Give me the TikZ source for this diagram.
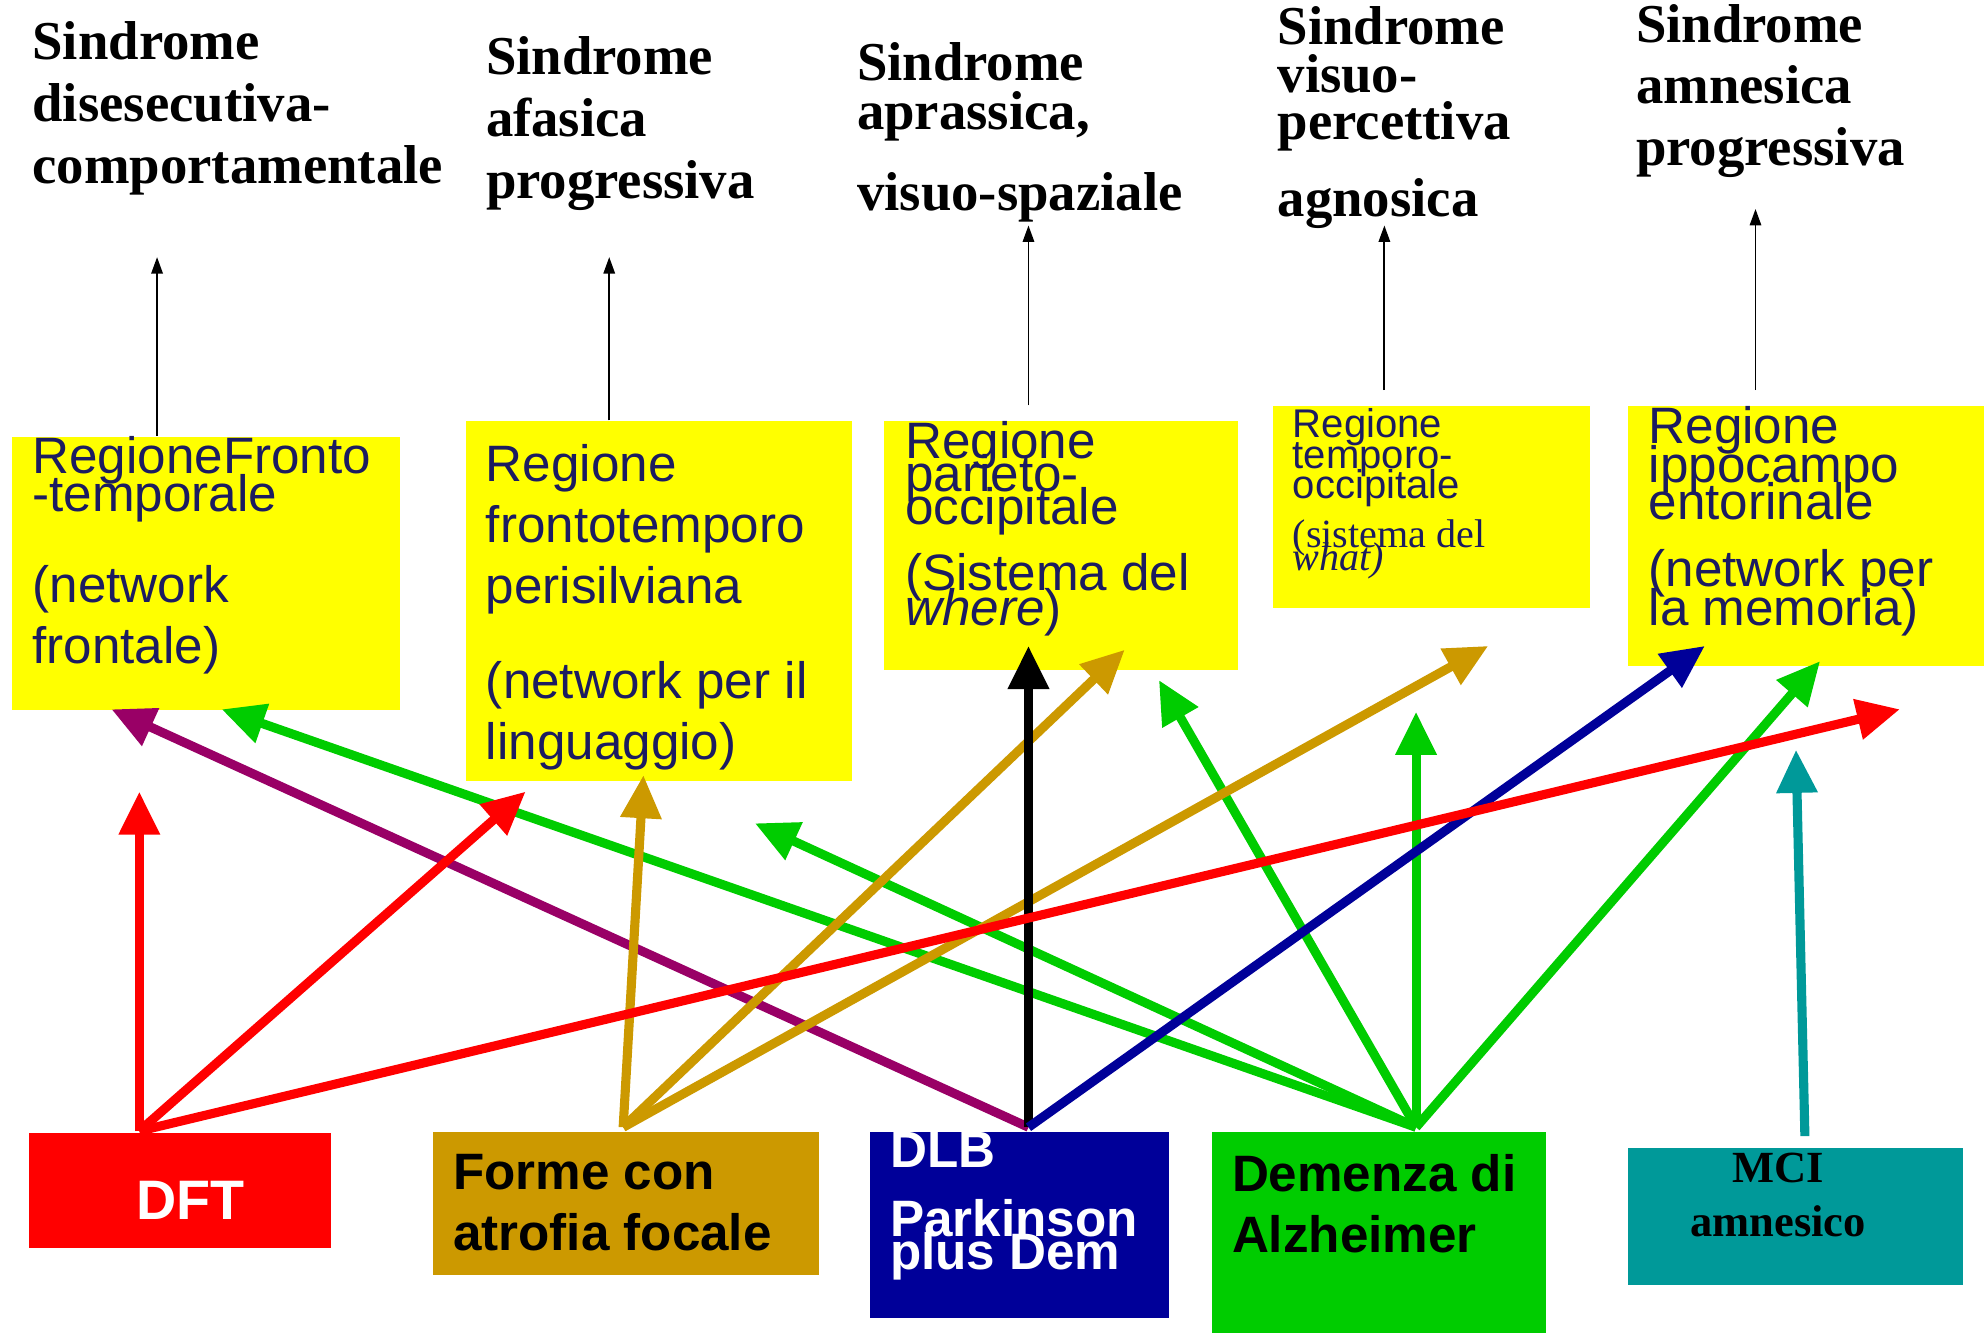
\documentclass[tikz,border=0pt]{standalone}
\usepackage{fontspec}
\setmainfont{Liberation Serif}
\newfontfamily\sansfam{Liberation Sans}
\usetikzlibrary{positioning, arrows.meta, calc}
\definecolor{boxyellow}{RGB}{255,255,0}
\definecolor{inkblue}{RGB}{28,28,96}
\definecolor{dftred}{RGB}{255,0,0}
\definecolor{focalgold}{RGB}{204,153,0}
\definecolor{dlbblue}{RGB}{0,0,153}
\definecolor{adgreen}{RGB}{0,204,0}
\definecolor{mciteal}{RGB}{0,153,153}
\definecolor{dlbpurple}{RGB}{153,0,102}

\begin{document}
\begin{tikzpicture}
    [
        x=1cm, y=1cm,
        yellow_box/.style={rectangle, fill=boxyellow, inner sep=0pt, anchor=north west},
        region_text/.style={inner sep=0pt, align=left, text=inkblue, font={\sansfam\fontsize{11.5}{13.7}\selectfont\lineskiplimit=-\maxdimen}},
        small_region_text/.style={inner sep=0pt, align=left, text=inkblue, font={\sansfam\fontsize{9}{6.8}\selectfont\lineskiplimit=-\maxdimen}},
        syndrome_text/.style={anchor=north west, inner sep=0pt, align=left, font={\bfseries\fontsize{12.3}{13.9}\selectfont\lineskiplimit=-\maxdimen}},
        disease_box/.style={rectangle, inner sep=0pt, anchor=north west},
        disease_text/.style={inner sep=0pt, align=left, font={\sansfam\bfseries\fontsize{11.5}{13.7}\selectfont\lineskiplimit=-\maxdimen}},
        thin_arrow/.style={-{Triangle[length=1.3mm, width=0.9mm]}, line width=0.15mm},
        thick_arrow/.style={-{Triangle[length=3.4mm, width=3.1mm]}, line width=0.72mm},
    ]
        \useasboundingbox (0,0) rectangle (15.68,-10.52);

        % syndromes
        \node[syndrome_text] (synFronto) at (0.25,-0.165) {Sindrome\\ disesecutiva-\\ comportamentale};
        \node[syndrome_text] (synLang) at (3.83,-0.285) {Sindrome\\ afasica\\ progressiva};
        \node[syndrome_text] (synParieto) at (6.76,-0.325) {Sindrome\\[-2.8pt] aprassica,\\[4.3pt] visuo-spaziale};
        \node[syndrome_text] (synTempo) at (10.08,-0.045) {Sindrome\\[-3.1pt] visuo-\\[-3.4pt] percettiva\\[3.5pt] agnosica};
        \node[syndrome_text] (synIppo) at (12.91,-0.025) {Sindrome\\ amnesica\\ progressiva};

        % regions
        \node[yellow_box, minimum width=3.06cm, minimum height=2.16cm] (regFronto) at (0.09,-3.44) {};
        \node[yellow_box, minimum width=3.05cm, minimum height=2.84cm] (regLang) at (3.67,-3.32) {};
        \node[yellow_box, minimum width=2.80cm, minimum height=1.96cm] (regParieto) at (6.97,-3.32) {};
        \node[yellow_box, minimum width=2.51cm, minimum height=1.59cm] (regTempo) at (10.04,-3.20) {};
        \node[yellow_box, minimum width=2.81cm, minimum height=2.05cm] (regIppo) at (12.85,-3.20) {};

        \node[region_text, below right=0cm and 1.6mm of regFronto.north west] (regFrontoTxt) {RegioneFronto\\[-5.2pt] -temporale\\[6.8pt] (network\\ frontale)};
        \node[region_text, below right=1.8mm and 1.6mm of regLang.north west] (regLangTxt) {Regione\\ frontotemporo\\ perisilviana\\[7.6pt] (network per il\\ linguaggio)};
        \node[region_text, below right=0cm and 1.7mm of regParieto.north west] (regParietoTxt) {Regione\\[-6.3pt] parieto-\\[-6.3pt] occipitale\\[1.1pt] (Sistema del\\[-5.7pt] \textit{where})};
        \node[small_region_text, below right=0.2mm and 1.6mm of regTempo.north west] (regTempoTxt) {Regione\\ temporo-\\ occipitale\\[4.3pt] \rmfamily (sistema del\\[-1.7pt] \rmfamily\itshape what)};
        \node[region_text, below right=0cm and 1.6mm of regIppo.north west] (regIppoTxt) {Regione\\[-4.9pt] ippocampo\\[-5.4pt] entorinale\\[1.4pt] (network per\\[-4.9pt] la memoria)};

        % diseases
        \node[disease_box, fill=dftred, minimum width=2.39cm, minimum height=0.91cm] (dft) at (0.22,-8.94) {};
        \node[disease_box, fill=focalgold, minimum width=3.05cm, minimum height=1.13cm] (focal) at (3.41,-8.93) {};
        \node[disease_box, fill=dlbblue, minimum width=2.36cm, minimum height=1.47cm] (dlb) at (6.86,-8.93) {};
        \node[disease_box, fill=adgreen, minimum width=2.64cm, minimum height=1.59cm] (ad) at (9.56,-8.93) {};
        \node[disease_box, fill=mciteal, minimum width=2.64cm, minimum height=1.08cm] (mci) at (12.85,-9.06) {};

        \node[disease_text, text=white, font={\sansfam\bfseries\fontsize{12.5}{14}\selectfont}] (dftTxt) at ($(dft.center)+(0.085,-0.075)$) {DFT};
        \node[disease_text, below right=1.8mm and 1.6mm of focal.north west] (focalTxt) {Forme con\\ atrofia focale};
        \node[disease_text, text=white, below right=0cm and 1.6mm of dlb.north west] (dlbTxt) {DLB\\[1.9pt] Parkinson\\[-6.2pt] plus Dem};
        \node[disease_text, below right=1.8mm and 1.6mm of ad.north west] (adTxt) {Demenza di\\ Alzheimer};
        \node[inner sep=0pt, align=center, font={\bfseries\fontsize{10}{12}\selectfont}, below=0.4mm of mci.north, xshift=-1.4mm] (mciTxt) {MCI\\ amnesico};

        % region -> syndrome
        \coordinate (upFronto) at (1.24,-2.03);
        \coordinate (upLang) at (4.81,-2.03);
        \coordinate (upParieto) at (8.12,-1.78);
        \coordinate (upTempo) at (10.93,-1.78);
        \coordinate (upIppo) at (13.86,-1.65);
        \draw[thin_arrow] (regFronto.north -| upFronto) -- (upFronto);
        \draw[thin_arrow] (regLang.north -| upLang) -- (upLang);
        \draw[thin_arrow] ($(regParieto.north -| upParieto)+(0,0.12)$) -- (upParieto);
        \draw[thin_arrow] ($(regTempo.north -| upTempo)+(0,0.12)$) -- (upTempo);
        \draw[thin_arrow] ($(regIppo.north -| upIppo)+(0,0.12)$) -- (upIppo);

        % disease -> region
        \coordinate (dftOut) at (1.10,-8.93);
        \coordinate (focalOut) at (4.92,-8.90);
        \coordinate (dlbOut) at (8.12,-8.90);
        \coordinate (adOut) at (11.18,-8.90);
        \coordinate (mciOut) at (14.25,-8.97);

        \coordinate (tipR1) at (1.10,-6.25);
        \coordinate (tipR2) at (4.15,-6.25);
        \coordinate (tipR3) at (15.00,-5.60);
        \coordinate (tipG1) at (5.08,-6.12);
        \coordinate (tipG2) at (8.88,-5.13);
        \coordinate (tipG3) at (11.75,-5.10);
        \coordinate (tipK) at (8.12,-5.10);
        \coordinate (tipP) at (0.88,-5.60);
        \coordinate (tipB) at (13.46,-5.10);
        \coordinate (tipA1) at (1.75,-5.60);
        \coordinate (tipA2) at (5.96,-6.50);
        \coordinate (tipA3) at (9.15,-5.37);
        \coordinate (tipA4) at (11.18,-5.62);
        \coordinate (tipA5) at (14.37,-5.22);
        \coordinate (tipT) at (14.18,-5.92);

        \draw[thick_arrow, color=dlbpurple] (dlbOut) -- (tipP);
        \draw[thick_arrow, color=adgreen] (adOut) -- (tipA1);
        \draw[thick_arrow, color=adgreen] (adOut) -- (tipA2);
        \draw[thick_arrow, color=adgreen] (adOut) -- (tipA3);
        \draw[thick_arrow, color=adgreen] (adOut) -- (tipA4);
        \draw[thick_arrow, color=adgreen] (adOut) -- (tipA5);
        \draw[thick_arrow, color=focalgold] (focalOut) -- (tipG1);
        \draw[thick_arrow, color=focalgold] (focalOut) -- (tipG2);
        \draw[thick_arrow, color=focalgold] (focalOut) -- (tipG3);
        \draw[thick_arrow, color=black] (dlbOut) -- (tipK);
        \draw[thick_arrow, color=dlbblue] (dlbOut) -- (tipB);
        \draw[thick_arrow, color=dftred] (dftOut) -- (tipR1);
        \draw[thick_arrow, color=dftred] (dftOut) -- (tipR2);
        \draw[thick_arrow, color=dftred] (dftOut) -- (tipR3);
        \draw[thick_arrow, color=mciteal] (mciOut) -- (tipT);
\end{tikzpicture}
\end{document}
